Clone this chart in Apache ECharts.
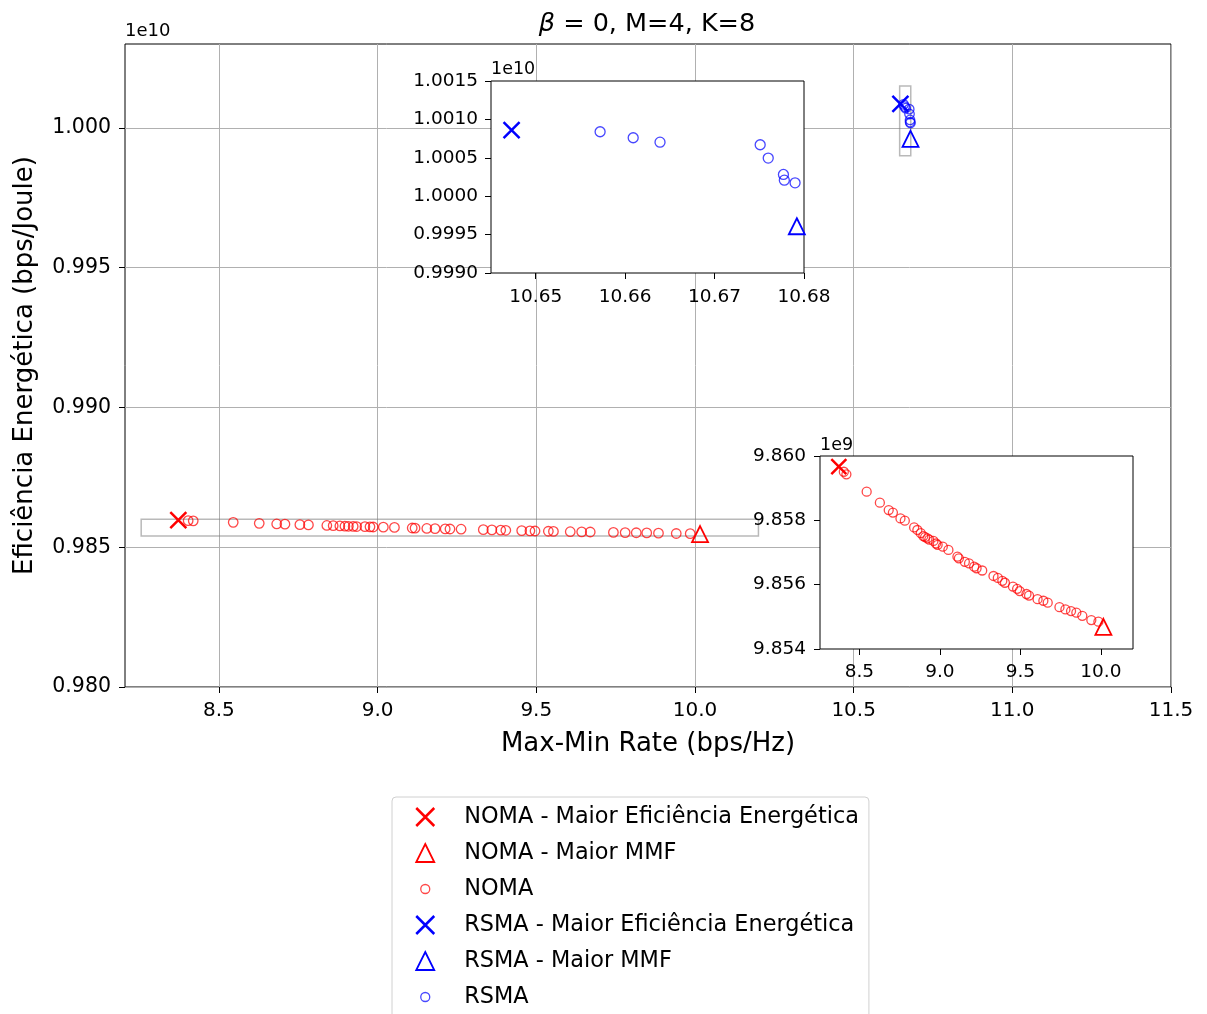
<!DOCTYPE html>
<html>
<head>
<meta charset="utf-8">
<script src="https://cdn.jsdelivr.net/npm/echarts@6/dist/echarts.min.js"></script>
<style>
  html, body { margin: 0; padding: 0; background: #fff; }
  #chart { width: 1207px; height: 1014px; }
</style>
</head>
<body>
<div id="chart"></div>
<script>
// Max-min rate (bps/Hz) and energy efficiency (bps/Joule) of each solution
const nomaRate = [8.403, 8.419, 8.545, 8.627, 8.682, 8.708, 8.755, 8.782, 8.840, 8.860,
  8.881, 8.897, 8.908, 8.923, 8.934, 8.960, 8.976, 8.986, 9.018, 9.053,
  9.109, 9.118, 9.155, 9.181, 9.213, 9.228, 9.263, 9.333, 9.360, 9.388,
  9.404, 9.454, 9.480, 9.496, 9.538, 9.554, 9.607, 9.643, 9.670, 9.743,
  9.780, 9.815, 9.848, 9.885, 9.941, 9.985];
const nomaEE = [9.85951e9, 9.85943e9, 9.85889e9, 9.85855e9, 9.85832e9, 9.85824e9, 9.85806e9, 9.85799e9, 9.85778e9, 9.85770e9,
  9.85760e9, 9.85751e9, 9.85748e9, 9.85744e9, 9.85740e9, 9.85736e9, 9.85728e9, 9.85724e9, 9.85718e9, 9.85708e9,
  9.85687e9, 9.85682e9, 9.85671e9, 9.85666e9, 9.85656e9, 9.85651e9, 9.85644e9, 9.85627e9, 9.85621e9, 9.85612e9,
  9.85606e9, 9.85594e9, 9.85587e9, 9.85580e9, 9.85571e9, 9.85566e9, 9.85555e9, 9.85550e9, 9.85544e9, 9.85530e9,
  9.85523e9, 9.85518e9, 9.85513e9, 9.85503e9, 9.85490e9, 9.85485e9];
const nomaBestEE = [8.372, 9.85967e9];
const nomaBestMMF = [10.016, 9.85469e9];

const rsmaRate = [10.6572, 10.6609, 10.6639, 10.6751, 10.6760, 10.6777, 10.6778, 10.6790];
const rsmaEE = [1.000839e10, 1.000761e10, 1.000704e10, 1.000670e10, 1.000496e10, 1.000283e10, 1.000209e10, 1.000174e10];
const rsmaBestEE = [10.6473, 1.000861e10];
const rsmaBestMMF = [10.6792, 0.999609e10];

// Axis extents and tick values
const mainXRange = [8.204, 11.5];
const mainYRange = [0.980e10, 1.003e10];
const mainXTicks = [8.5, 9.0, 9.5, 10.0, 10.5, 11.0, 11.5];
const mainYTicks = [0.980e10, 0.985e10, 0.990e10, 0.995e10, 1.000e10];

const rsmaXRange = [10.645, 10.680];
const rsmaYRange = [0.9990e10, 1.0015e10];
const rsmaXTicks = [10.65, 10.66, 10.67, 10.68];
const rsmaYTicks = [0.9990e10, 0.9995e10, 1.0000e10, 1.0005e10, 1.0010e10, 1.0015e10];

const nomaXRange = [8.255, 10.2];
const nomaYRange = [9.854e9, 9.860e9];
const nomaXTicks = [8.5, 9.0, 9.5, 10.0];
const nomaYTicks = [9.854e9, 9.856e9, 9.858e9, 9.860e9];

const names = {
  nomaEE: 'NOMA - Maior Eficiência Energética',
  nomaMMF: 'NOMA - Maior MMF',
  noma: 'NOMA',
  rsmaEE: 'RSMA - Maior Eficiência Energética',
  rsmaMMF: 'RSMA - Maior MMF',
  rsma: 'RSMA'
};

const FONT = 'DejaVu Sans';
const RED = '#ff0000', BLUE = '#0000ff';
const RED_A = 'rgba(255,0,0,0.72)', BLUE_A = 'rgba(0,0,255,0.72)';
const CROSS = 'path://M0,0L10,10M10,0L0,10';
// small circle inside a larger invisible box, used for the legend marker
const SMALL_CIRCLE = 'path://M0,0M18,18M13.5,9A4.5,4.5,0,1,1,4.5,9A4.5,4.5,0,1,1,13.5,9Z';

const pairs = (xs, ys) => xs.map((x, i) => [x, ys[i]]);

function markers(name, data, axis, symbol, size, stroke, width, z) {
  return {
    type: 'scatter', name, data,
    xAxisIndex: axis, yAxisIndex: axis,
    symbol, symbolSize: size, z,
    itemStyle: { color: 'rgba(0,0,0,0)', borderColor: stroke, borderWidth: width, opacity: 1 },
    emphasis: { disabled: true },
    silent: true
  };
}

function valueAxis(range, ticks, gridIndex, fmt, fontSize, margin, opts) {
  return Object.assign({
    type: 'value', gridIndex,
    min: range[0], max: range[1],
    axisLine: { show: false },
    axisTick: { show: true, length: 6, customValues: ticks, lineStyle: { color: '#000', width: 1 } },
    axisLabel: { customValues: ticks, formatter: fmt, fontSize, fontFamily: FONT, color: '#000', margin },
    splitLine: { show: false }
  }, opts || {});
}

const gridLine = { show: true, lineStyle: { color: '#b0b0b0', width: 1 } };

const chart = echarts.init(document.getElementById('chart'), null, { renderer: 'canvas' });

const option = {
  animation: false,
  backgroundColor: '#fff',
  grid: [
    { left: 125, top: 44, width: 1046, height: 643, show: true, borderColor: '#000', borderWidth: 1, backgroundColor: 'rgba(0,0,0,0)', z: 0 },
    { left: 491, top: 81, width: 313, height: 192, show: true, borderColor: '#000', borderWidth: 1, backgroundColor: '#fff', z: 5 },
    { left: 820, top: 456, width: 313, height: 193, show: true, borderColor: '#000', borderWidth: 1, backgroundColor: '#fff', z: 5 }
  ],
  xAxis: [
    valueAxis(mainXRange, mainXTicks, 0, v => v.toFixed(1), 20, 14, {
      splitLine: gridLine,
      name: 'Max-Min Rate (bps/Hz)', nameLocation: 'middle', nameGap: 44,
      nameTextStyle: { fontSize: 26, fontFamily: FONT, color: '#000' }
    }),
    valueAxis(rsmaXRange, rsmaXTicks, 1, v => v.toFixed(2), 18.5, 15, { z: 6 }),
    valueAxis(nomaXRange, nomaXTicks, 2, v => v.toFixed(1), 18.5, 14, { z: 6 })
  ],
  yAxis: [
    valueAxis(mainYRange, mainYTicks, 0, v => (v / 1e10).toFixed(3), 20.5, 14, {
      splitLine: gridLine,
      name: 'Eficiência Energética (bps/Joule)', nameLocation: 'middle', nameGap: 87,
      nameTextStyle: { fontSize: 26, fontFamily: FONT, color: '#000' }
    }),
    valueAxis(rsmaYRange, rsmaYTicks, 1, v => (v / 1e10).toFixed(4), 18.5, 13, { z: 6 }),
    valueAxis(nomaYRange, nomaYTicks, 2, v => (v / 1e9).toFixed(3), 18.5, 14, { z: 6 })
  ],
  legend: {
    orient: 'vertical',
    left: 392, top: 797, height: 300,
    padding: [8, 10, 24, 23],
    itemWidth: 18, itemHeight: 18,
    itemGap: 12,
    backgroundColor: '#fff',
    borderColor: '#d0d0d0', borderWidth: 1, borderRadius: 4,
    selectedMode: false,
    textStyle: { fontSize: 22.4, fontFamily: FONT, color: '#000', lineHeight: 24, padding: [0, 0, 0, 25] },
    data: [
      { name: names.nomaEE, icon: CROSS, itemStyle: { color: 'rgba(0,0,0,0)', borderColor: RED, borderWidth: 2.5 } },
      { name: names.nomaMMF, icon: 'triangle', itemStyle: { color: 'rgba(0,0,0,0)', borderColor: RED, borderWidth: 1.8 } },
      { name: names.noma, icon: SMALL_CIRCLE, itemStyle: { color: 'rgba(0,0,0,0)', borderColor: RED_A, borderWidth: 1.3 } },
      { name: names.rsmaEE, icon: CROSS, itemStyle: { color: 'rgba(0,0,0,0)', borderColor: BLUE, borderWidth: 2.5 } },
      { name: names.rsmaMMF, icon: 'triangle', itemStyle: { color: 'rgba(0,0,0,0)', borderColor: BLUE, borderWidth: 1.8 } },
      { name: names.rsma, icon: SMALL_CIRCLE, itemStyle: { color: 'rgba(0,0,0,0)', borderColor: BLUE_A, borderWidth: 1.3 } }
    ]
  },
  graphic: [
    { type: 'text', x: 647, y: 24, z: 20, style: {
      text: '{b|β} = 0, M=4, K=8', align: 'center', verticalAlign: 'middle',
      font: '25.5px "DejaVu Sans"', fill: '#000',
      rich: { b: { fontStyle: 'italic', fontSize: 25.5, fontFamily: FONT } } } },
    { type: 'text', x: 125, y: 31, z: 20, style: { text: '1e10', verticalAlign: 'middle', font: '18px "DejaVu Sans"', fill: '#000' } },
    { type: 'text', x: 491, y: 69, z: 20, style: { text: '1e10', verticalAlign: 'middle', font: '17.5px "DejaVu Sans"', fill: '#000' } },
    { type: 'text', x: 820, y: 445, z: 20, style: { text: '1e9', verticalAlign: 'middle', font: '17.5px "DejaVu Sans"', fill: '#000' } }
  ],
  series: [
    // main axes, with the outlines of the two zoomed regions
    Object.assign(markers(names.noma, pairs(nomaRate, nomaEE), 0, 'circle', 9.5, RED_A, 1.3, 2), {
      markArea: {
        silent: true,
        itemStyle: { color: 'rgba(0,0,0,0)', borderColor: 'rgba(128,128,128,0.55)', borderWidth: 1.5 },
        data: [
          [{ coord: [nomaXRange[0], nomaYRange[0]] }, { coord: [nomaXRange[1], nomaYRange[1]] }],
          [{ coord: [rsmaXRange[0], rsmaYRange[0]] }, { coord: [rsmaXRange[1], rsmaYRange[1]] }]
        ]
      }
    }),
    markers(names.nomaEE, [nomaBestEE], 0, CROSS, 16, RED, 2.5, 3),
    markers(names.nomaMMF, [nomaBestMMF], 0, 'triangle', 16, RED, 1.8, 3),
    markers(names.rsma, pairs(rsmaRate, rsmaEE), 0, 'circle', 9.5, BLUE_A, 1.3, 2),
    markers(names.rsmaEE, [rsmaBestEE], 0, CROSS, 16, BLUE, 2.5, 3),
    markers(names.rsmaMMF, [rsmaBestMMF], 0, 'triangle', 16, BLUE, 1.8, 3),
    // RSMA zoom
    markers(names.rsma, pairs(rsmaRate, rsmaEE), 1, 'circle', 10, BLUE_A, 1.3, 7),
    markers(names.rsmaEE, [rsmaBestEE], 1, CROSS, 16, BLUE, 2.5, 8),
    markers(names.rsmaMMF, [rsmaBestMMF], 1, 'triangle', 16, BLUE, 1.8, 8),
    // NOMA zoom
    markers(names.noma, pairs(nomaRate, nomaEE), 2, 'circle', 9, RED_A, 1.3, 7),
    markers(names.nomaEE, [nomaBestEE], 2, CROSS, 15, RED, 2.5, 8),
    markers(names.nomaMMF, [nomaBestMMF], 2, 'triangle', 16, RED, 1.8, 8)
  ]
};

chart.setOption(option);
</script>
</body>
</html>
